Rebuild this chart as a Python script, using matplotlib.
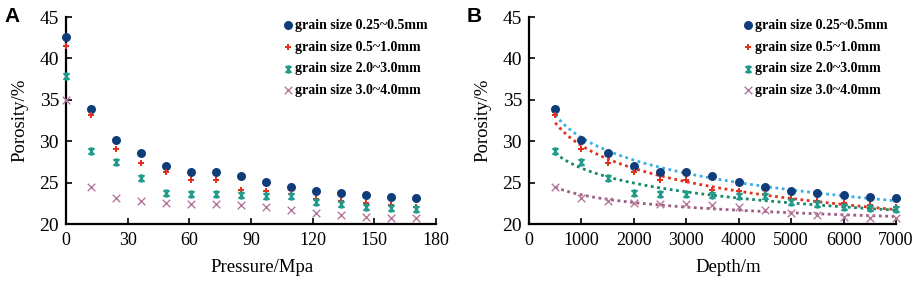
import numpy as np
import matplotlib
matplotlib.use("Agg")
import matplotlib.pyplot as plt
from matplotlib.path import Path

# ---------------- data ----------------
pressure = [0, 12.2, 24.3, 36.5, 48.6, 60.8, 72.9, 85.1, 97.2, 109.4, 121.5, 133.7, 145.8, 158.0, 170.1]
depth = [500, 1000, 1500, 2000, 2500, 3000, 3500, 4000, 4500, 5000, 5500, 6000, 6500, 7000]

labels = ["grain size 0.25~0.5mm", "grain size 0.5~1.0mm",
          "grain size 2.0~3.0mm", "grain size 3.0~4.0mm"]

por_025_05 = [42.6, 33.9, 30.2, 28.55, 27.06, 26.3, 26.33, 25.8, 25.08, 24.48, 23.99, 23.75, 23.5, 23.3, 23.1]
por_05_10 = [41.5, 33.2, 29.07, 27.38, 26.3, 25.32, 25.28, 24.07, 23.99, 23.67, 23.02, 22.78, 22.54, 22.34, 22.1]
por_20_30 = [37.9, 28.87, 27.46, 25.6, 23.7, 23.63, 23.6, 23.47, 23.43, 23.35, 22.7, 22.38, 22.06, 21.94, 21.85]
por_30_40 = [35.0, 24.44, 23.19, 22.82, 22.54, 22.46, 22.46, 22.26, 22.02, 21.65, 21.37, 21.09, 20.8, 20.7, 20.7]

series = [por_025_05, por_05_10, por_20_30, por_30_40]

xticks_a = [0, 30, 60, 90, 120, 150, 180]
xticks_b = [0, 1000, 2000, 3000, 4000, 5000, 6000, 7000]
yticks = [20, 25, 30, 35, 40, 45]

# ---------------- styles ----------------
colors = ["#0f3d7a", "#e2321d", "#1f9a8c", "#b5789c"]
trend_colors = ["#3aaee8", "#e2321d", "#16886a", "#9e5d80"]

star = Path([(-1, -1), (1, 1), (-1, 1), (1, -1), (0, -1.2), (0, 1.2),
             (-0.6, -1), (0.6, -1), (-0.6, 1), (0.6, 1)],
            [Path.MOVETO, Path.LINETO, Path.MOVETO, Path.LINETO,
             Path.MOVETO, Path.LINETO, Path.MOVETO, Path.LINETO,
             Path.MOVETO, Path.LINETO])
markers = [dict(marker="o", s=42, lw=0),
           dict(marker="P", s=22, lw=0),
           dict(marker=star, s=30, lw=1.1),
           dict(marker="x", s=30, lw=1.0)]

serif = ["Liberation Serif", "DejaVu Serif"]
plt.rcParams["font.family"] = serif

fig = plt.figure(figsize=(9.2, 2.82), dpi=100)
W, H = 920, 282
axA = fig.add_axes([66 / W, 1 - 224 / H, (436 - 66) / W, (224 - 17) / H])
axB = fig.add_axes([529 / W, 1 - 224 / H, (896 - 529) / W, (224 - 17) / H])


def style(ax, xlim, xticks, xlabel, xlabel_x):
    ax.set_xlim(*xlim)
    ax.set_ylim(20, 45)
    ax.set_xticks(xticks)
    ax.set_yticks(yticks)
    for s in ["top", "right"]:
        ax.spines[s].set_visible(False)
    for s in ["left", "bottom"]:
        ax.spines[s].set_linewidth(1.6)
        ax.spines[s].set_color("black")
    ax.tick_params(axis="x", direction="in", length=4, width=1.2, labelsize=13, pad=6)
    ax.tick_params(axis="y", direction="in", length=4, width=1.2, labelsize=14, pad=5)
    ax.set_xlabel(xlabel, fontsize=13.5, labelpad=9)
    ax.set_ylabel("Porosity/%", fontsize=13.5, labelpad=8)
    ax.xaxis.set_label_coords(xlabel_x, -0.17)
    ax.xaxis.label.set_va("top")


# Panel A
for vals, c, m, lab in zip(series, colors, markers, labels):
    axA.scatter(pressure, vals, color=c, label=lab, clip_on=False, zorder=3,
                marker=m["marker"], s=m["s"], linewidths=m["lw"])
style(axA, (0, 180), xticks_a, "Pressure/Mpa", 0.53)

# Panel B
dgrid = np.linspace(depth[0], depth[-1], 200)
for vals, c, tc, m, lab in zip(series, colors, trend_colors, markers, labels):
    v = vals[1:]
    axB.scatter(depth, v, color=c, label=lab, clip_on=False, zorder=3,
                marker=m["marker"], s=m["s"], linewidths=m["lw"])
    a, b = np.polyfit(np.log(depth), v, 1)
    axB.plot(dgrid, a * np.log(dgrid) + b, color=tc, ls=(0, (1, 1.3)), lw=2.0, zorder=2)
style(axB, (0, 7000), xticks_b, "Depth/m", 0.542)

for ax in (axA, axB):
    leg = ax.legend(loc="upper right", bbox_to_anchor=(1.0, 1.03), frameon=False,
                    prop={"family": serif, "weight": "bold", "size": 10},
                    handletextpad=0.0, labelspacing=0.62, handlelength=1.0,
                    borderaxespad=0.2)

fig.text(4 / W, 1 - 17 / H, "A", fontsize=15, fontweight="bold",
         family=["Liberation Sans", "DejaVu Sans"], va="center")
fig.text(467 / W, 1 - 17 / H, "B", fontsize=15, fontweight="bold",
         family=["Liberation Sans", "DejaVu Sans"], va="center")

fig.savefig("out.png", dpi=100)
